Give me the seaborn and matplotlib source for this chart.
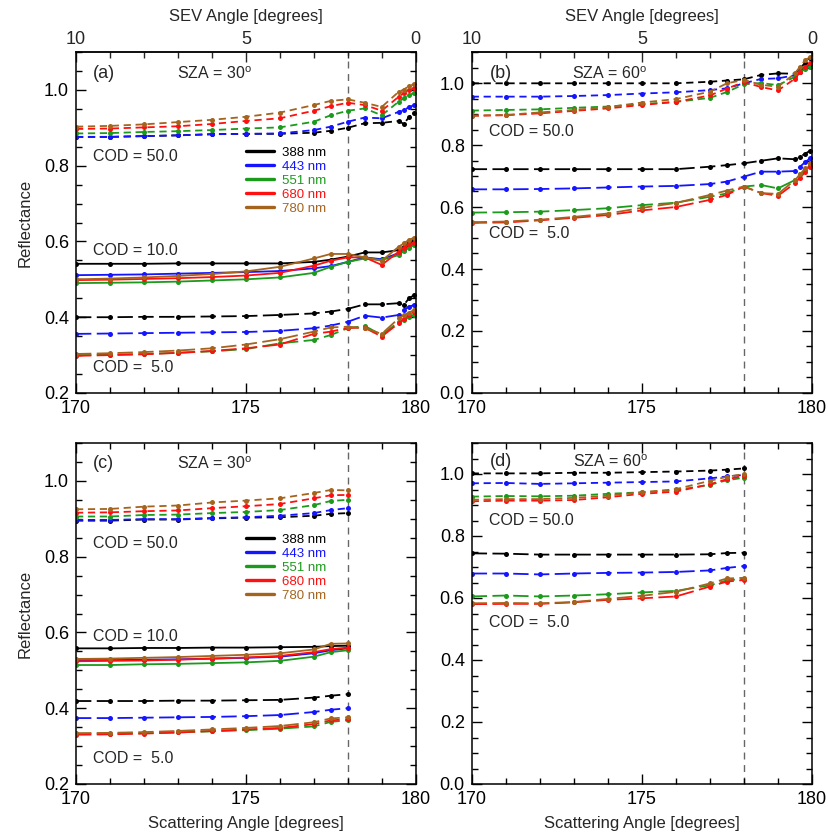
import numpy as np
import pandas as pd
import matplotlib
matplotlib.use("Agg")
import matplotlib.pyplot as plt
import seaborn as sns
from matplotlib.ticker import MultipleLocator, FormatStrFormatter

# ---------------------------------------------------------------------------
# Scattering angles of the model points
angles_full = [170, 171, 172, 173, 174, 175, 176, 177, 177.5, 178,
               178.5, 179, 179.5, 179.65, 179.8, 179.95]
angles_short = [170, 171, 172, 173, 174, 175, 176, 177, 177.5, 178]

wavelengths = [388, 443, 551, 680, 780]
wl_labels = ["388 nm", "443 nm", "551 nm", "680 nm", "780 nm"]
wl_colors = ["#000000", "#1414ff", "#1c9a1c", "#ff1010", "#a5641e"]

# Panel (a): SZA = 30, full angular range
a_cod50 = {
    388: [0.876, 0.876, 0.878, 0.880, 0.883, 0.884, 0.884, 0.887, 0.892, 0.900, 0.912, 0.913, 0.918, 0.910, 0.928, 0.938],
    443: [0.876, 0.876, 0.878, 0.880, 0.883, 0.884, 0.885, 0.894, 0.903, 0.916, 0.927, 0.925, 0.942, 0.947, 0.954, 0.960],
    551: [0.885, 0.886, 0.889, 0.891, 0.894, 0.898, 0.901, 0.916, 0.933, 0.945, 0.951, 0.933, 0.969, 0.978, 0.987, 0.991],
    680: [0.897, 0.898, 0.901, 0.904, 0.910, 0.918, 0.925, 0.945, 0.957, 0.966, 0.960, 0.945, 0.982, 0.991, 1.000, 1.004],
    780: [0.903, 0.905, 0.909, 0.915, 0.921, 0.929, 0.940, 0.960, 0.971, 0.975, 0.966, 0.955, 0.995, 1.001, 1.010, 1.015],
}
a_cod10 = {
    388: [0.541, 0.541, 0.541, 0.542, 0.542, 0.542, 0.542, 0.546, 0.552, 0.560, 0.571, 0.571, 0.577, 0.586, 0.595, 0.604],
    443: [0.511, 0.512, 0.513, 0.515, 0.517, 0.519, 0.522, 0.529, 0.535, 0.546, 0.558, 0.553, 0.569, 0.578, 0.587, 0.595],
    551: [0.490, 0.491, 0.492, 0.494, 0.497, 0.500, 0.505, 0.517, 0.533, 0.546, 0.555, 0.551, 0.564, 0.575, 0.584, 0.590],
    680: [0.498, 0.499, 0.501, 0.503, 0.506, 0.510, 0.517, 0.536, 0.549, 0.558, 0.558, 0.538, 0.573, 0.583, 0.592, 0.597],
    780: [0.500, 0.502, 0.505, 0.509, 0.514, 0.521, 0.533, 0.555, 0.567, 0.567, 0.558, 0.549, 0.586, 0.595, 0.604, 0.610],
}
a_cod5 = {
    388: [0.400, 0.400, 0.401, 0.401, 0.402, 0.403, 0.406, 0.410, 0.415, 0.422, 0.434, 0.434, 0.437, 0.432, 0.450, 0.458],
    443: [0.356, 0.357, 0.358, 0.359, 0.360, 0.361, 0.364, 0.371, 0.378, 0.388, 0.404, 0.399, 0.406, 0.419, 0.428, 0.432],
    551: [0.300, 0.301, 0.303, 0.306, 0.310, 0.316, 0.331, 0.340, 0.353, 0.371, 0.377, 0.353, 0.388, 0.393, 0.400, 0.405],
    680: [0.298, 0.300, 0.302, 0.306, 0.311, 0.318, 0.328, 0.356, 0.362, 0.372, 0.372, 0.349, 0.384, 0.396, 0.406, 0.415],
    780: [0.303, 0.305, 0.308, 0.312, 0.318, 0.328, 0.342, 0.362, 0.373, 0.375, 0.371, 0.356, 0.397, 0.405, 0.412, 0.419],
}

# Panel (b): SZA = 60, full angular range
b_cod50 = {
    388: [0.999, 0.999, 0.999, 0.999, 0.999, 0.999, 0.999, 1.004, 1.008, 1.012, 1.026, 1.031, 1.030, 1.048, 1.065, 1.080],
    443: [0.956, 0.956, 0.956, 0.958, 0.961, 0.966, 0.970, 0.977, 0.983, 0.999, 1.013, 1.015, 1.025, 1.036, 1.047, 1.058],
    551: [0.911, 0.913, 0.915, 0.920, 0.924, 0.932, 0.939, 0.952, 0.971, 0.996, 1.000, 0.993, 1.020, 1.035, 1.045, 1.053],
    680: [0.894, 0.896, 0.902, 0.910, 0.918, 0.929, 0.939, 0.960, 0.982, 1.003, 0.987, 0.976, 1.014, 1.035, 1.053, 1.063],
    780: [0.895, 0.897, 0.905, 0.913, 0.922, 0.937, 0.948, 0.972, 0.999, 1.010, 0.994, 0.988, 1.031, 1.053, 1.074, 1.085],
}
b_cod5 = {
    388: [0.722, 0.722, 0.722, 0.722, 0.722, 0.722, 0.722, 0.730, 0.735, 0.741, 0.749, 0.757, 0.754, 0.762, 0.772, 0.782],
    443: [0.657, 0.657, 0.658, 0.660, 0.663, 0.666, 0.668, 0.674, 0.682, 0.698, 0.714, 0.714, 0.716, 0.730, 0.745, 0.757],
    551: [0.582, 0.583, 0.585, 0.590, 0.596, 0.606, 0.614, 0.633, 0.644, 0.666, 0.671, 0.660, 0.687, 0.705, 0.720, 0.735],
    680: [0.549, 0.550, 0.557, 0.565, 0.574, 0.589, 0.600, 0.623, 0.639, 0.666, 0.645, 0.636, 0.677, 0.695, 0.712, 0.730],
    780: [0.551, 0.553, 0.559, 0.568, 0.579, 0.597, 0.613, 0.639, 0.653, 0.666, 0.645, 0.642, 0.687, 0.705, 0.725, 0.741],
}

# Panel (c): SZA = 30, angles up to 178
c_cod50 = {
    388: [0.895, 0.895, 0.898, 0.898, 0.901, 0.903, 0.904, 0.908, 0.913, 0.915],
    443: [0.897, 0.897, 0.899, 0.899, 0.902, 0.904, 0.908, 0.915, 0.923, 0.928],
    551: [0.906, 0.906, 0.910, 0.911, 0.915, 0.918, 0.923, 0.936, 0.947, 0.950],
    680: [0.916, 0.917, 0.920, 0.922, 0.928, 0.933, 0.939, 0.954, 0.962, 0.963],
    780: [0.925, 0.926, 0.932, 0.935, 0.943, 0.948, 0.954, 0.968, 0.976, 0.975],
}
c_cod10 = {
    388: [0.558, 0.558, 0.559, 0.559, 0.560, 0.560, 0.561, 0.562, 0.564, 0.565],
    443: [0.527, 0.527, 0.528, 0.529, 0.531, 0.533, 0.536, 0.545, 0.553, 0.558],
    551: [0.514, 0.514, 0.516, 0.517, 0.519, 0.521, 0.525, 0.536, 0.548, 0.553],
    680: [0.524, 0.525, 0.526, 0.528, 0.531, 0.534, 0.538, 0.548, 0.556, 0.560],
    780: [0.530, 0.531, 0.533, 0.535, 0.538, 0.541, 0.545, 0.555, 0.570, 0.571],
}
c_cod5 = {
    388: [0.419, 0.419, 0.419, 0.420, 0.420, 0.421, 0.422, 0.428, 0.433, 0.437],
    443: [0.374, 0.374, 0.375, 0.376, 0.377, 0.379, 0.382, 0.390, 0.396, 0.400],
    551: [0.333, 0.333, 0.334, 0.336, 0.339, 0.342, 0.346, 0.352, 0.364, 0.368],
    680: [0.330, 0.331, 0.333, 0.336, 0.340, 0.344, 0.348, 0.358, 0.368, 0.371],
    780: [0.334, 0.335, 0.337, 0.340, 0.344, 0.348, 0.353, 0.363, 0.373, 0.376],
}

# Panel (d): SZA = 60, angles up to 178
d_cod50 = {
    388: [1.002, 1.002, 1.002, 1.004, 1.004, 1.006, 1.008, 1.011, 1.014, 1.018],
    443: [0.970, 0.971, 0.968, 0.970, 0.972, 0.974, 0.976, 0.986, 0.992, 0.997],
    551: [0.927, 0.929, 0.928, 0.930, 0.936, 0.941, 0.948, 0.965, 0.980, 0.988],
    680: [0.912, 0.914, 0.914, 0.916, 0.925, 0.936, 0.943, 0.967, 0.983, 0.994],
    780: [0.917, 0.919, 0.919, 0.923, 0.930, 0.941, 0.951, 0.978, 0.991, 1.000],
}
d_cod5 = {
    388: [0.744, 0.743, 0.740, 0.740, 0.740, 0.740, 0.740, 0.741, 0.745, 0.746],
    443: [0.679, 0.679, 0.676, 0.679, 0.681, 0.682, 0.684, 0.689, 0.697, 0.703],
    551: [0.605, 0.608, 0.605, 0.608, 0.612, 0.618, 0.623, 0.641, 0.657, 0.662],
    680: [0.580, 0.581, 0.581, 0.586, 0.594, 0.599, 0.605, 0.637, 0.653, 0.658],
    780: [0.583, 0.584, 0.583, 0.587, 0.597, 0.607, 0.620, 0.647, 0.663, 0.665],
}

# ---------------------------------------------------------------------------
sns.set_theme(style="ticks")
plt.rcParams["font.family"] = ["Liberation Sans", "DejaVu Sans"]
plt.rcParams["mathtext.fontset"] = "custom"
plt.rcParams["mathtext.rm"] = "Liberation Sans"
plt.rcParams["mathtext.it"] = "Liberation Sans:italic"

palette = dict(zip(wl_labels, wl_colors))
LINESTYLES = {
    "cod50": (0, (4.0, 2.6)),
    "cod10": "-",
    "cod5": (0, (8.5, 3.0)),
}

fig = plt.figure(figsize=(8.29, 8.32), dpi=100)
W, H = 829.0, 832.0


def add_axes(left, top, right, bottom):
    return fig.add_axes([left / W, 1 - bottom / H, (right - left) / W, (bottom - top) / H])


ax_a = add_axes(76, 52, 415.7, 393)
ax_b = add_axes(471.7, 52, 812, 393)
ax_c = add_axes(76, 443, 415.7, 784)
ax_d = add_axes(471.7, 443, 812, 784)


def draw_group(ax, angles, curves, style):
    frames = []
    for wl, lab in zip(wavelengths, wl_labels):
        frames.append(pd.DataFrame({"angle": angles, "refl": curves[wl], "wl": lab}))
    df = pd.concat(frames, ignore_index=True)
    sns.lineplot(data=df, x="angle", y="refl", hue="wl", hue_order=wl_labels,
                 palette=palette, estimator=None, marker="o", markersize=3.6,
                 markeredgewidth=0, linewidth=1.3, linestyle=LINESTYLES[style],
                 legend=False, ax=ax)


def style_axes(ax, ymin, top_labels, bottom_label, ylabel):
    ax.set_xlim(170, 180)
    ax.set_ylim(ymin, 1.1)
    ax.set_xticks([170, 175, 180])
    ax.xaxis.set_minor_locator(MultipleLocator(1))
    ax.set_yticks(np.arange(ymin, 1.01, 0.2))
    ax.yaxis.set_major_formatter(FormatStrFormatter("%.1f"))
    ax.yaxis.set_minor_locator(MultipleLocator(0.05))
    ax.tick_params(which="both", direction="in", top=not top_labels, right=True,
                   colors="black", width=1.0, labelsize=13, pad=5)
    ax.tick_params(which="major", length=7)
    ax.tick_params(which="minor", length=4)
    for sp in ax.spines.values():
        sp.set_linewidth(1.1)
        sp.set_color("black")
    ax.set_xlabel("Scattering Angle [degrees]" if bottom_label else "", fontsize=12, labelpad=6)
    ax.set_ylabel("Reflectance" if ylabel else "", fontsize=12, labelpad=8)
    ax.axvline(178, color="#666666", linewidth=1.0, linestyle=(0, (5, 4)), zorder=0)
    if top_labels:
        sec = ax.secondary_xaxis("top", functions=(lambda x: 180 - x, lambda s: 180 - s))
        sec.set_xticks([10, 5, 0])
        sec.xaxis.set_minor_locator(MultipleLocator(1))
        sec.tick_params(which="both", direction="in", width=1.0, labelsize=13, pad=3)
        sec.tick_params(which="major", length=7)
        sec.tick_params(which="minor", length=4)
        sec.set_xlabel("SEV Angle [degrees]", fontsize=12, labelpad=7)
        sec.spines["top"].set_linewidth(1.1)


def add_legend(ax, y_top):
    handles = [plt.Line2D([], [], color=c, linewidth=2.4) for c in wl_colors]
    ax.legend(handles, wl_labels, loc="upper left", bbox_to_anchor=(0.50, y_top),
              frameon=False, fontsize=9.5, handlelength=2.1, handletextpad=0.65,
              labelspacing=0.13, borderpad=0, borderaxespad=0, labelcolor="linecolor")


def label(ax, x, y, s, size=11.5):
    ax.text(x, y, s, transform=ax.transAxes, fontsize=size, ha="left", va="center")


# (a)
draw_group(ax_a, angles_full, a_cod50, "cod50")
draw_group(ax_a, angles_full, a_cod10, "cod10")
draw_group(ax_a, angles_full, a_cod5, "cod5")
style_axes(ax_a, 0.2, True, False, True)
add_legend(ax_a, 0.722)
label(ax_a, 0.049, 0.9375, "(a)", 13)
label(ax_a, 0.298, 0.9375, r"SZA = 30$^{\rm o}$")
label(ax_a, 0.049, 0.693, "COD = 50.0")
label(ax_a, 0.049, 0.419, "COD = 10.0")
label(ax_a, 0.049, 0.076, "COD =  5.0")

# (b)
draw_group(ax_b, angles_full, b_cod50, "cod50")
draw_group(ax_b, angles_full, b_cod5, "cod5")
style_axes(ax_b, 0.0, True, False, False)
label(ax_b, 0.052, 0.9375, "(b)", 13)
label(ax_b, 0.294, 0.9375, r"SZA = 60$^{\rm o}$")
label(ax_b, 0.052, 0.766, "COD = 50.0")
label(ax_b, 0.052, 0.468, "COD =  5.0")

# (c)
draw_group(ax_c, angles_short, c_cod50, "cod50")
draw_group(ax_c, angles_short, c_cod10, "cod10")
draw_group(ax_c, angles_short, c_cod5, "cod5")
style_axes(ax_c, 0.2, False, True, True)
add_legend(ax_c, 0.734)
label(ax_c, 0.049, 0.940, "(c)", 13)
label(ax_c, 0.298, 0.940, r"SZA = 30$^{\rm o}$")
label(ax_c, 0.049, 0.704, "COD = 50.0")
label(ax_c, 0.049, 0.432, "COD = 10.0")
label(ax_c, 0.049, 0.076, "COD =  5.0")

# (d)
draw_group(ax_d, angles_short, d_cod50, "cod50")
draw_group(ax_d, angles_short, d_cod5, "cod5")
style_axes(ax_d, 0.0, False, True, False)
label(ax_d, 0.054, 0.945, "(d)", 13)
label(ax_d, 0.299, 0.945, r"SZA = 60$^{\rm o}$")
label(ax_d, 0.052, 0.774, "COD = 50.0")
label(ax_d, 0.052, 0.473, "COD =  5.0")

fig.savefig("out.png", dpi=100)
